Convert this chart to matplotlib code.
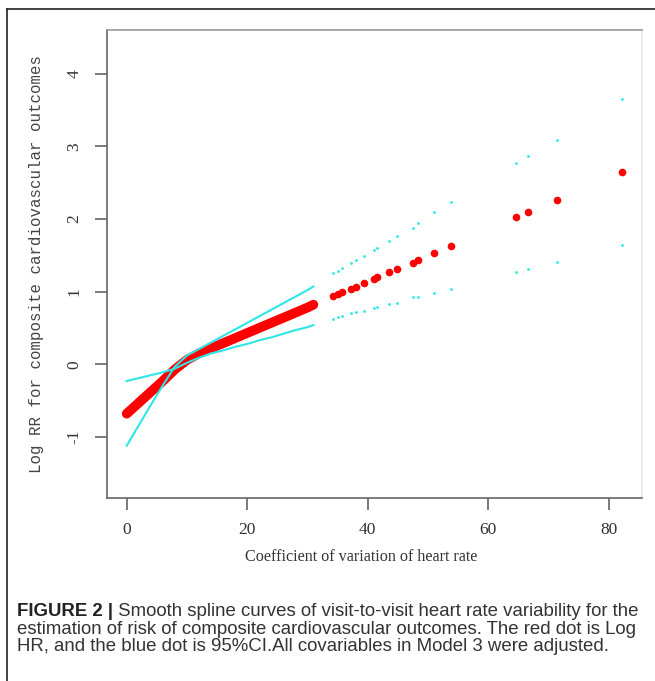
import numpy as np
import matplotlib.pyplot as plt
from matplotlib.lines import Line2D

plt.rcParams['axes.unicode_minus'] = False

# dense part of the spline
cv_dense = [0, 2, 4, 6, 8, 10, 12, 14, 16, 18, 20, 22, 24, 26, 28, 30, 31]
logrr_dense = [-0.68, -0.53, -0.38, -0.23, -0.07, 0.06, 0.15, 0.22, 0.29, 0.36,
               0.43, 0.50, 0.57, 0.64, 0.71, 0.78, 0.82]
ci_a_dense = [-1.12, -0.84, -0.56, -0.29, -0.03, 0.12, 0.21, 0.30, 0.39, 0.48,
              0.57, 0.66, 0.75, 0.84, 0.93, 1.02, 1.07]
ci_b_dense = [-0.23, -0.19, -0.15, -0.11, -0.06, 0.02, 0.09, 0.15, 0.19, 0.24,
              0.28, 0.33, 0.37, 0.42, 0.47, 0.51, 0.54]

# sparse tail (single observations)
cv_sparse = [34.3, 35.1, 35.8, 37.2, 38.1, 39.4, 41.0, 41.6, 43.6, 44.9,
             47.5, 48.4, 51.1, 53.8, 64.7, 66.7, 71.4, 82.3]
logrr_sparse = [0.94, 0.97, 0.99, 1.04, 1.07, 1.12, 1.17, 1.20, 1.27, 1.31,
                1.39, 1.43, 1.53, 1.63, 2.02, 2.09, 2.26, 2.64]
upper_sparse = [1.25, 1.29, 1.32, 1.39, 1.43, 1.49, 1.57, 1.60, 1.70, 1.77,
                1.88, 1.94, 2.09, 2.23, 2.77, 2.87, 3.09, 3.65]
lower_sparse = [0.63, 0.65, 0.67, 0.70, 0.72, 0.74, 0.77, 0.79, 0.83, 0.85,
                0.92, 0.93, 0.98, 1.04, 1.27, 1.31, 1.41, 1.64]

xticks = [0, 20, 40, 60, 80]
yticks = [-1, 0, 1, 2, 3, 4]

W, H = 655, 681
red = '#ff0000'
cyan = '#2ee6e6'

fig = plt.figure(figsize=(W / 100, H / 100), dpi=100)
ax = fig.add_axes([107 / W, 1 - 498 / H, 534.7 / W, 468 / H])

ax.plot(cv_dense, logrr_dense, color=red, lw=7, solid_capstyle='round', zorder=2)
ax.plot(cv_dense, ci_a_dense, color=cyan, lw=1.5, zorder=3)
ax.plot(cv_dense, ci_b_dense, color=cyan, lw=1.5, zorder=3)
ax.plot(cv_sparse, logrr_sparse, 'o', color=red, ms=5.5, mew=0, zorder=2)
ax.plot(cv_sparse, upper_sparse, 'o', color=cyan, ms=2, mew=0, zorder=3)
ax.plot(cv_sparse, lower_sparse, 'o', color=cyan, ms=2, mew=0, zorder=3)

ax.set_xlim(-3.27, 85.5)
ax.set_ylim(-1.84, 4.6)
ax.set_xticks(xticks)
ax.set_xticklabels([str(v) for v in xticks])
ax.set_yticks(yticks)
ax.set_yticklabels([str(v) for v in yticks], rotation=90, va='center')

for lab in ax.get_xticklabels() + ax.get_yticklabels():
    lab.set_fontfamily('Liberation Serif')
    lab.set_fontsize(12.5)
    lab.set_color('#333333')
ax.tick_params(axis='both', length=8.6, width=1.1, color='#555555', pad=9)

ax.spines['left'].set_color('#666666')
ax.spines['bottom'].set_color('#666666')
ax.spines['top'].set_color('#999999')
ax.spines['right'].set_color('#e6e6e6')
for s in ax.spines.values():
    s.set_linewidth(1.2)

fig.text(361 / W, 1 - 557 / H, 'Coefficient of variation of heart rate',
         family='Liberation Serif', fontsize=11.6, color='#333333',
         ha='center', va='center')
fig.text(37 / W, 1 - 264 / H, 'Log RR for composite cardiovascular outcomes',
         family='Liberation Mono', fontsize=11.3, color='#444444',
         rotation=90, ha='center', va='center')

# outer frame (top and left only)
fig.add_artist(Line2D([7 / W, 7 / W], [0, 1 - 9 / H], transform=fig.transFigure,
                      color='#222222', lw=1.2))
fig.add_artist(Line2D([7 / W, 1], [1 - 9 / H, 1 - 9 / H], transform=fig.transFigure,
                      color='#222222', lw=1.2))

# caption
cap_bold = 'FIGURE 2 |'
cap_lines = ['Smooth spline curves of visit-to-visit heart rate variability for the',
             'estimation of risk of composite cardiovascular outcomes. The red dot is Log',
             'HR, and the blue dot is 95%CI.All covariables in Model 3 were adjusted.']
cap_family = ['Liberation Sans']
x0 = 17
baselines = [616, 633.5, 651]
renderer = fig.canvas.get_renderer()

size = 12
tb = fig.text(x0 / W, 1 - baselines[0] / H, cap_bold, family=cap_family,
              weight='bold', fontsize=size, color='#222222', va='baseline')
t1 = fig.text(0, 1 - baselines[0] / H, ' ' + cap_lines[0], family=cap_family,
              fontsize=size, color='#333333', va='baseline')
wb = tb.get_window_extent(renderer).width
w1 = t1.get_window_extent(renderer).width
size = size * 625 / (wb + w1)
tb.set_fontsize(size)
t1.set_fontsize(size)
wb = tb.get_window_extent(renderer).width
t1.set_x((x0 + wb) / W)
for line, base in zip(cap_lines[1:], baselines[1:]):
    fig.text(x0 / W, 1 - base / H, line, family=cap_family, fontsize=size,
             color='#333333', va='baseline')

fig.savefig('out.png', dpi=100)
